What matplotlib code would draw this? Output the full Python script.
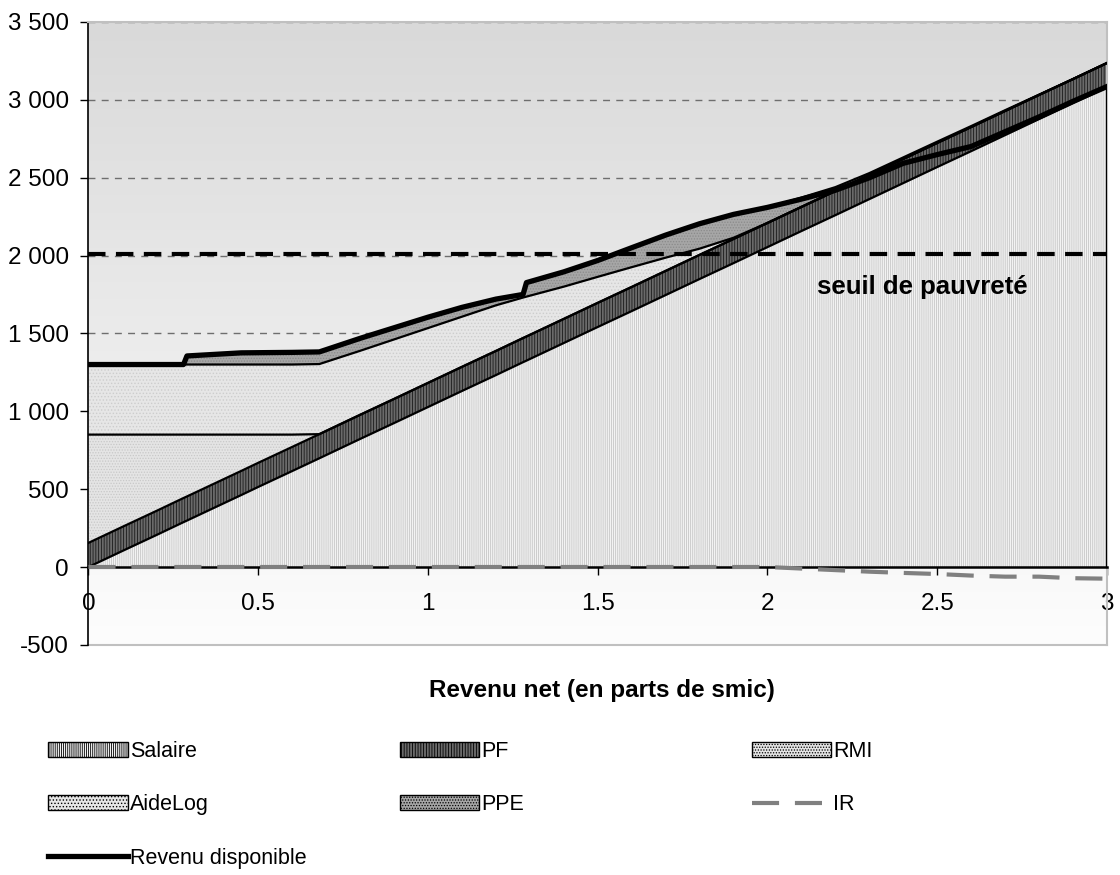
import numpy as np
import matplotlib
matplotlib.use('Agg')
import matplotlib.pyplot as plt
from matplotlib.patches import Patch
from matplotlib.lines import Line2D
from matplotlib.colors import LinearSegmentedColormap

plt.rcParams['font.family'] = ['Liberation Sans', 'DejaVu Sans']
plt.rcParams['hatch.linewidth'] = 0.6

# revenu net en parts de smic
x_parts = [0, 0.1, 0.2, 0.28, 0.29, 0.37, 0.45, 0.5, 0.6, 0.68, 0.8, 0.9, 1.0, 1.1, 1.2, 1.28, 1.29,
           1.4, 1.5, 1.6, 1.7, 1.8, 1.9, 2.0, 2.1, 2.2, 2.3, 2.4, 2.5, 2.6, 2.7, 2.8, 2.9, 3.0]

salaire = [0, 103, 205, 288, 298, 380, 462, 514, 616, 698, 822, 924, 1027, 1130, 1232, 1315, 1325,
           1438, 1541, 1643, 1746, 1849, 1951, 2054, 2157, 2259, 2362, 2465, 2568, 2670, 2773, 2876, 2978, 3081]
pf = [155, 155, 155, 155, 155, 155, 155, 155, 155, 155, 155, 155, 155, 155, 155, 155, 155,
      155, 155, 155, 155, 155, 155, 155, 155, 155, 155, 155, 155, 155, 155, 155, 155, 155]
rmi = [695, 592, 490, 407, 397, 315, 233, 181, 79, 0, 0, 0, 0, 0, 0, 0, 0,
       0, 0, 0, 0, 0, 0, 0, 0, 0, 0, 0, 0, 0, 0, 0, 0, 0]
aidelog = [450, 450, 450, 450, 450, 450, 450, 450, 450, 450, 411, 382, 352, 322, 293, 260, 256,
           207, 167, 127, 85, 40, 8, 0, 0, 0, 0, 0, 0, 0, 0, 0, 0, 0]
ppe = [0, 0, 0, 0, 55, 65, 75, 76, 78, 78, 80, 75, 70, 60, 40, 20, 90,
       95, 105, 125, 145, 160, 150, 100, 60, 25, 12, 10, 8, 6, 5, 2, 0, 0]
ir = [0, 0, 0, 0, 0, 0, 0, 0, 0, 0, 0, 0, 0, 0, 0, 0, 0,
      0, 0, 0, 0, 0, 0, 0, -10, -20, -30, -38, -45, -55, -62, -62, -72, -75]
revenu = [1300, 1300, 1300, 1300, 1355, 1365, 1375, 1376, 1378, 1381, 1468, 1536, 1604, 1667, 1720, 1750, 1826,
          1895, 1968, 2050, 2131, 2204, 2264, 2309, 2362, 2419, 2499, 2592, 2648, 2700, 2795, 2890, 2990, 3085]

seuil = 2010
yticks = [-500, 0, 500, 1000, 1500, 2000, 2500, 3000, 3500]
xticks = [0, 0.5, 1, 1.5, 2, 2.5, 3]

x = np.array(x_parts)
series = [np.array(salaire), np.array(pf), np.array(rmi), np.array(aidelog), np.array(ppe)]
# style de chaque couche : (fond, couleur des hachures, hachures)
styles = [('#f3f3f3', '#c6c6c6', '|' * 8),
          ('#6a6a6a', '#1a1a1a', '|' * 6),
          ('#e4e4e4', '#c8c8c8', '.' * 6),
          ('#e6e6e6', '#cdcdcd', '.' * 5),
          ('#a6a6a6', '#8a8a8a', '.' * 6)]

fig = plt.figure(figsize=(11.2, 8.75), dpi=100)
ax = fig.add_axes([0.079, 0.263, 0.9094, 0.712])

# fond en dégradé
cmap = LinearSegmentedColormap.from_list('fond', ['#fdfdfd', '#d9d9d9'])
grad = np.linspace(0, 1, 256).reshape(-1, 1)
ax.imshow(grad, extent=[0, 3, -500, 3500], origin='lower', aspect='auto', cmap=cmap, zorder=0)

for yv in yticks[3:]:
    ax.axhline(yv, color='#6e6e6e', lw=1, dashes=(5, 4.5), zorder=1)

bottom = np.zeros_like(x, dtype=float)
for s, (fc, hc, h) in zip(series, styles):
    top = bottom + s
    ax.fill_between(x, bottom, top, facecolor=fc, edgecolor=hc, hatch=h, linewidth=0, zorder=2)
    bottom = top
# contours des couches
bottom = np.zeros_like(x, dtype=float)
for s in series:
    top = bottom + s
    ax.plot(x, top, color='black', lw=1.6, zorder=3, solid_joinstyle='miter')
    bottom = top
ax.plot([3, 3], [0, salaire[-1]], color='black', lw=1.6, zorder=3)

ax.plot(x, ir, color='#808080', lw=3, dashes=(6.5, 3.8), zorder=5)
ax.plot(x, revenu, color='black', lw=3.8, zorder=6, solid_joinstyle='round')
ax.plot([0, 3], [seuil, seuil], color='black', lw=3, dashes=(4.2, 2.5), zorder=6)
ax.text(2.457, 1795, 'seuil de pauvreté', fontsize=18.5, fontweight='bold', ha='center', va='center', zorder=7)

ax.set_xlim(0, 3)
ax.set_ylim(-500, 3500)
ax.set_yticks(yticks)
ax.set_yticklabels([f'{v:,}'.replace(',', '\u00a0') for v in yticks])
ax.set_xticks(xticks)
ax.set_xticklabels(['0', '0.5', '1', '1.5', '2', '2.5', '3'])
ax.spines['bottom'].set_position(('data', 0))
ax.spines['bottom'].set_linewidth(1.8)
ax.spines['left'].set_linewidth(1.2)
for sp in ['top', 'right']:
    ax.spines[sp].set_color('#c0c0c0')
    ax.spines[sp].set_linewidth(1.5)
ax.axhline(-500, color='#c0c0c0', lw=1.5, zorder=1, clip_on=False)
ax.spines['bottom'].set_zorder(4)
ax.tick_params(axis='both', labelsize=17.5, length=6, width=1, direction='out')
ax.tick_params(axis='y', pad=8)
ax.tick_params(axis='x', pad=13)

fig.text(0.5375, 0.2103, 'Revenu net (en parts de smic)', fontsize=17.5, fontweight='bold', ha='center', va='center')

# légende en trois colonnes
def patch(i):
    fc, hc, h = styles[i]
    return Patch(facecolor=fc, edgecolor='black', hatch=h, linewidth=1)

cols = [([patch(0), patch(3), Line2D([], [], color='black', lw=3.8)], ['Salaire', 'AideLog', 'Revenu disponible'], 0.0429),
        ([patch(1), patch(4)], ['PF', 'PPE'], 0.357),
        ([patch(2), Line2D([], [], color='#808080', lw=3, dashes=(6.5, 3.8))], ['RMI', 'IR'], 0.671)]
for hs, ls, xpos in cols:
    fig.legend(hs, ls, loc='upper left', bbox_to_anchor=(xpos, 0.153), frameon=False,
               fontsize=15.5, handlelength=3.7, handleheight=0.7, handletextpad=0.1,
               labelspacing=1.5, borderpad=0, borderaxespad=0)

fig.savefig('out.png', dpi=100)
